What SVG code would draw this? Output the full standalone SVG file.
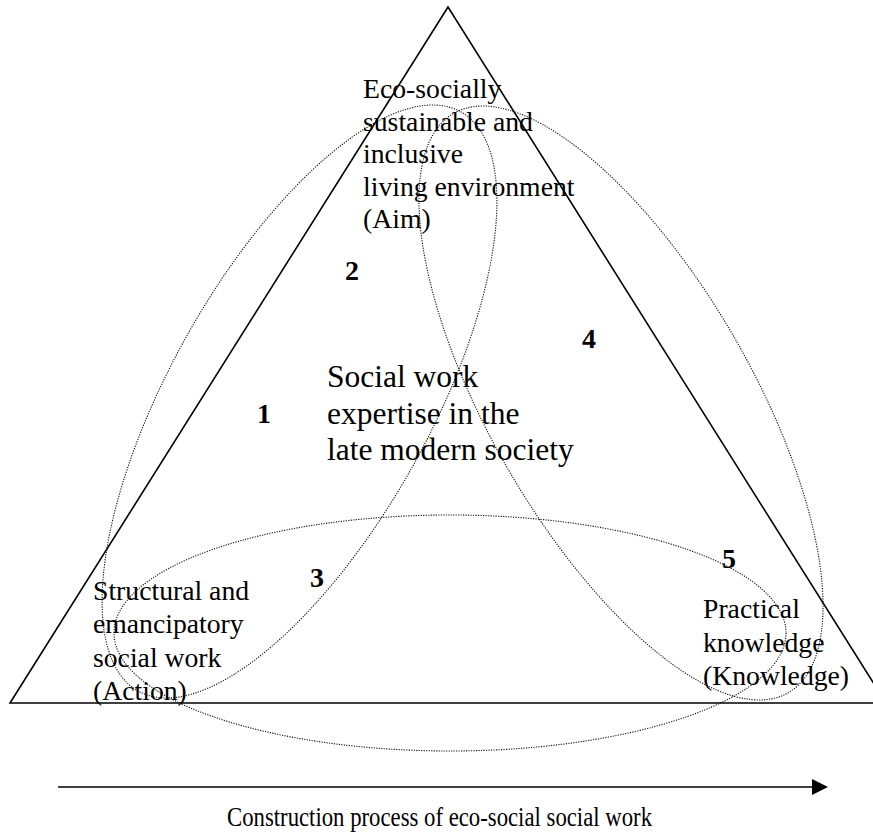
<svg xmlns="http://www.w3.org/2000/svg" width="873" height="840" viewBox="0 0 873 840">
<style>
.lbl{font-family:"Liberation Serif","Times New Roman",serif;font-size:27.7px;fill:#000}
.ctr{font-family:"Liberation Serif","Times New Roman",serif;font-size:31.5px;fill:#000}
.num{font-family:"Liberation Serif","Times New Roman",serif;font-size:28px;font-weight:bold;fill:#000}
.dot{fill:none;stroke:#111;stroke-width:1.1;stroke-dasharray:1.2 1.3}
.solid{fill:none;stroke:#000;stroke-width:1.6}
</style>
<defs>
<marker id="ah" markerWidth="16" markerHeight="16" refX="14" refY="8" orient="auto" markerUnits="userSpaceOnUse">
<path d="M0,0 L16,8 L0,16 Z" fill="#000"/>
</marker>
</defs>
<rect width="873" height="840" fill="#fff"/>
<g id="triangle">
<polygon class="solid" points="448,7 10,703 886,703"/>
</g>
<g id="ellipse-action">
<ellipse class="dot" cx="299.5" cy="401.5" rx="130.4" ry="331.5" transform="rotate(29.1 299.5 401.5)"/>
</g>
<g id="ellipse-knowledge">
<ellipse class="dot" cx="621" cy="403" rx="130.9" ry="334.5" transform="rotate(-30 621 403)"/>
</g>
<g id="ellipse-bottom">
<ellipse class="dot" cx="450" cy="633" rx="336" ry="118"/>
</g>
<g id="aim">
<text class="lbl" x="363" y="98">Eco-socially<tspan x="363" y="130.5">sustainable and</tspan><tspan x="363" y="163">inclusive</tspan><tspan x="363" y="195.5">living environment</tspan><tspan x="363" y="228">(Aim)</tspan></text>
</g>
<g id="center">
<text class="ctr" x="327" y="387">Social work<tspan x="327" y="423.5">expertise in the</tspan><tspan x="327" y="460">late modern society</tspan></text>
</g>
<g id="action">
<text class="lbl" x="93" y="600">Structural and<tspan x="93" y="633">emancipatory</tspan><tspan x="93" y="667">social work</tspan><tspan x="93" y="700">(Action)</tspan></text>
</g>
<g id="knowledge">
<text class="lbl" x="703" y="618">Practical<tspan x="703" y="652">knowledge</tspan><tspan x="703" y="685">(Knowledge)</tspan></text>
</g>
<g id="numbers">
<text class="num" x="257" y="423">1</text>
<text class="num" x="345" y="280">2</text>
<text class="num" x="310" y="587">3</text>
<text class="num" x="582" y="348">4</text>
<text class="num" x="722" y="568">5</text>
</g>
<g id="connectors">
<line x1="58" y1="787" x2="826" y2="787" stroke="#000" stroke-width="1.6" marker-end="url(#ah)"/>
</g>
<g id="caption">
<text class="lbl" x="227" y="826" font-size="27" textLength="425" lengthAdjust="spacingAndGlyphs">Construction process of eco-social social work</text>
</g>
</svg>
